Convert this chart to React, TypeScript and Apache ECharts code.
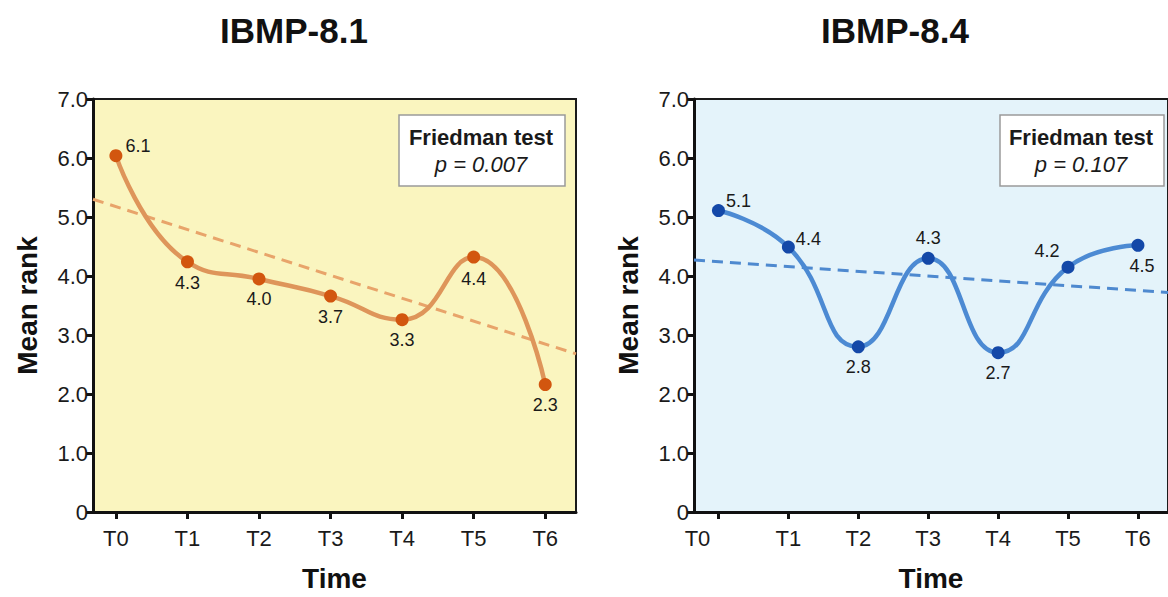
import React, { useEffect, useRef } from "react";
import * as echarts from "echarts";

const categories = ["T0", "T1", "T2", "T3", "T4", "T5", "T6"];

const leftTitle = "IBMP-8.1";
const leftValues = [6.04, 4.24, 3.95, 3.66, 3.26, 4.32, 2.16];
const leftLabels = ["6.1", "4.3", "4.0", "3.7", "3.3", "4.4", "2.3"];
const leftTrend = [
  [-0.32, 5.3],
  [6.43, 2.68],
];
const leftP = "p = 0.007";

const rightTitle = "IBMP-8.4";
const rightValues = [5.11, 4.49, 2.8, 4.3, 2.7, 4.15, 4.52];
const rightLabels = ["5.1", "4.4", "2.8", "4.3", "2.7", "4.2", "4.5"];
const rightTrend = [
  [-0.35, 4.27],
  [6.43, 3.72],
];
const rightP = "p = 0.107";

const testName = "Friedman test";

// label offsets (style)
const leftLabelOffsets = [
  [22, -10],
  [0, 21],
  [0, 20],
  [0, 21],
  [0, 20],
  [0, 22],
  [0, 20],
];
const rightLabelOffsets = [
  [20, -10],
  [20, -8],
  [0, 20],
  [0, -20],
  [0, 20],
  [-21, -16],
  [4, 21],
];

const FONT = "'Liberation Sans', Arial, Helvetica, sans-serif";

function makeAxes(gridIndex: number, xMin: number, xMax: number, shiftFirst: boolean) {
  const xAxis = {
    type: "value",
    gridIndex,
    min: xMin,
    max: xMax,
    splitLine: { show: false },
    axisLine: { show: true, onZero: false, lineStyle: { color: "#111", width: 3 } },
    axisTick: {
      show: true,
      customValues: categories.map((_, i) => i),
      length: 7,
      lineStyle: { color: "#111", width: 3 },
    },
    axisLabel: {
      customValues: categories.map((_, i) => i),
      formatter: (v: number) => {
        const c = categories[Math.round(v)];
        return shiftFirst && Math.round(v) === 0 ? "{s|" + c + "}" : c;
      },
      rich: {
        s: { fontSize: 22, fontFamily: FONT, color: "#1a1a1a", padding: [0, 42, 0, 0] },
      },
      fontSize: 22,
      fontFamily: FONT,
      color: "#1a1a1a",
      margin: 15,
    },
    name: "Time",
    nameLocation: "middle",
    nameGap: 52,
    nameTextStyle: { fontSize: 28, fontWeight: "bold", fontFamily: FONT, color: "#111" },
  };
  const yAxis = {
    type: "value",
    gridIndex,
    min: 0,
    max: 7,
    interval: 1,
    splitLine: { show: false },
    axisLine: { show: true, onZero: false, lineStyle: { color: "#111", width: 3 } },
    axisTick: { show: true, length: 7, lineStyle: { color: "#111", width: 3 } },
    axisLabel: {
      formatter: (v: number) => (v === 0 ? "0" : v.toFixed(1)),
      fontSize: 22,
      fontFamily: FONT,
      color: "#1a1a1a",
      margin: 5,
    },
    name: "Mean rank",
    nameLocation: "middle",
    nameGap: 52,
    nameTextStyle: { fontSize: 28, fontWeight: "bold", fontFamily: FONT, color: "#111" },
  };
  return { xAxis, yAxis };
}

function makeSeries(
  idx: number,
  values: number[],
  labels: string[],
  offsets: number[][],
  trend: number[][],
  lineColor: string,
  dotColor: string,
  trendColor: string
) {
  return [
    {
      type: "line",
      xAxisIndex: idx,
      yAxisIndex: idx,
      data: trend,
      showSymbol: false,
      symbol: "none",
      silent: true,
      z: 2,
      lineStyle: { color: trendColor, width: 3, type: [11, 7] },
    },
    {
      type: "line",
      xAxisIndex: idx,
      yAxisIndex: idx,
      smooth: 0.5,
      z: 3,
      symbol: "circle",
      symbolSize: 13,
      itemStyle: { color: dotColor },
      lineStyle: { color: lineColor, width: 4.5 },
      data: values.map((v, i) => ({
        value: [i, v],
        label: { offset: offsets[i] },
      })),
      label: {
        show: true,
        position: "inside",
        formatter: (p: any) => labels[p.dataIndex],
        fontSize: 18,
        fontFamily: FONT,
        color: "#1a1a1a",
      },
    },
  ];
}

function boxGraphics(x: number, w: number, cx: number, p: string) {
  return [
    {
      type: "rect",
      shape: { x, y: 115, width: w, height: 71 },
      style: { fill: "#ffffff", stroke: "#9a9a9a", lineWidth: 1.5 },
      z: 10,
    },
    {
      type: "text",
      x: cx,
      y: 137,
      style: {
        text: testName,
        fontSize: 22,
        fontWeight: "bold",
        fontFamily: FONT,
        fill: "#1a1a1a",
        align: "center",
        verticalAlign: "middle",
      },
      z: 11,
    },
    {
      type: "text",
      x: cx,
      y: 164,
      style: {
        text: p,
        fontSize: 22,
        fontStyle: "italic",
        fontFamily: FONT,
        fill: "#1a1a1a",
        align: "center",
        verticalAlign: "middle",
      },
      z: 11,
    },
  ];
}

export default function App() {
  const ref = useRef<HTMLDivElement>(null);
  useEffect(() => {
    if (!ref.current) return;
    const chart = echarts.init(ref.current, null, { renderer: "svg" });
    const a0 = makeAxes(0, -0.32, 6.43, false);
    const a1 = makeAxes(1, -0.35, 6.43, true);
    chart.setOption({
      animation: false,
      backgroundColor: "#ffffff",
      grid: [
        {
          left: 93,
          top: 99,
          width: 483,
          height: 415,
          show: true,
          backgroundColor: "#FAF5BF",
          borderColor: "#1a1a1a",
          borderWidth: 2,
        },
        {
          left: 694,
          top: 99,
          width: 483,
          height: 415,
          show: true,
          backgroundColor: "#E4F3FA",
          borderColor: "#1a1a1a",
          borderWidth: 2,
        },
      ],
      xAxis: [a0.xAxis, a1.xAxis],
      yAxis: [a0.yAxis, a1.yAxis],
      series: [
        ...makeSeries(0, leftValues, leftLabels, leftLabelOffsets, leftTrend, "#DE955A", "#D2560F", "#E8A46A"),
        ...makeSeries(1, rightValues, rightLabels, rightLabelOffsets, rightTrend, "#4C8AD3", "#1448A8", "#4E89CF"),
      ],
      graphic: [
        {
          type: "text",
          x: 294,
          y: 30,
          style: {
            text: leftTitle,
            fontSize: 35,
            fontWeight: "bold",
            fontFamily: FONT,
            fill: "#111",
            align: "center",
            verticalAlign: "middle",
          },
        },
        {
          type: "text",
          x: 895,
          y: 30,
          style: {
            text: rightTitle,
            fontSize: 35,
            fontWeight: "bold",
            fontFamily: FONT,
            fill: "#111",
            align: "center",
            verticalAlign: "middle",
          },
        },
        ...boxGraphics(399, 166, 481, leftP),
        ...boxGraphics(1000, 164, 1081, rightP),
      ],
    });
    return () => chart.dispose();
  }, []);
  return (
    <div
      ref={ref}
      style={{ position: "absolute", left: 0, top: 0, width: 1168, height: 597 }}
    />
  );
}
